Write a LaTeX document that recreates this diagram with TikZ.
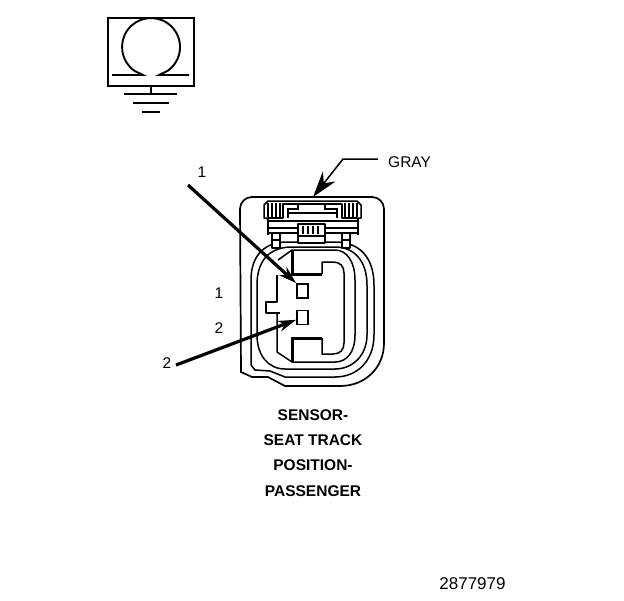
\documentclass[tikz,border=0pt]{standalone}
\usepackage{fontspec}
\setmainfont{Liberation Sans}
\usetikzlibrary{arrows.meta}
\tikzset{
	part/.style={line width=1.5pt,line join=round},
	heavy/.style={line width=3pt,line join=miter},
	pinbox/.style={draw,line width=1.7pt,minimum width=11pt,minimum height=14pt,inner sep=0pt},
	callout/.style={line width=3.2pt,-{Stealth[length=18pt,width=11pt]}},
	label/.style={font=\fontsize{15.5}{18}\selectfont,inner sep=0pt},
}
\begin{document}
\begin{tikzpicture}[x=1pt,y=-1pt]
			\useasboundingbox (0,0) rectangle (624,600);
			% chassis symbol
			\node[draw,line width=1.9pt,minimum width=86pt,minimum height=68pt,inner sep=0pt] (frame) at (151,52) {};
			\coordinate (earth) at (151,94);
			\draw[line width=1.9pt] (112,75) -- (143,75) -- (134.4,70.8) arc[start angle=125,end angle=415,radius=29] -- (159,75) -- (189,75);
			\draw[line width=1.6pt] (frame.south) -- (earth);
			\draw[line width=1.6pt] (124,94) -- (177,94);
			\draw[line width=2.6pt] (133,103) -- (169,103);
			\draw[line width=1.8pt] (142,112) -- (160,112);
			% housing
			\draw[line width=1.7pt] (240,209) arc[start angle=180,end angle=270,radius=12] -- (372,197) arc[start angle=270,end angle=360,radius=12]
				-- (384,343) .. controls (384,368) and (365,386) .. (340,386) -- (285,386) -- (268,377) -- (252,377) -- (241,372) -- cycle;
			% rings
			\draw[part] (251,280) .. controls (251,258) and (262,243) .. (285,242) -- (335,242) .. controls (360,242) and (374,258) .. (374,285)
				-- (374,335) .. controls (374,360) and (358,377) .. (335,377) -- (285,377) -- (270,371) -- (255,370) -- (251,365) -- cycle;
			\draw[part] (257,285) .. controls (257,262) and (268,248) .. (290,247) -- (335,247) .. controls (355,247) and (367,262) .. (367,285)
				-- (367,335) .. controls (367,355) and (353,369) .. (335,369) -- (285,369) .. controls (268,369) and (257,355) .. (257,335) -- cycle;
			% cavity
			\draw[part] (355,280) .. controls (355,262) and (347,250) .. (335,250) -- (292,250) -- (278,260);
			\draw[part] (277,275) -- (277,302) -- (266,302) -- (266,313) -- (280,313);
			\draw[part] (277,313) -- (277,352) -- (292,362) -- (335,362) .. controls (347,362) and (355,352) .. (355,335) -- (355,280);
			% keys
			\draw[heavy] (292,251) -- (292,274) -- (322,274);
			\draw[part] (322,274) -- (322,262) -- (333,262) .. controls (340,262) and (344,266) .. (344,273)
				-- (344,343) .. controls (344,350) and (340,354) .. (333,354) -- (322,354) -- (322,338);
			\draw[heavy] (322,338) -- (292,338) -- (292,362);
			% latch
			\draw[part] (268,218) -- (264,218) -- (264,205) -- (268,201) -- (357,201) -- (361,205) -- (361,218) -- (357,218);
			\draw[part] (268,218) -- (283,218) -- (283,204) -- (342,204) -- (342,218) -- (357,218);
			\draw[line width=2pt] (288,218) -- (288,209) -- (298,209) -- (298,205);
			\draw[line width=2pt] (337,218) -- (337,209) -- (325,209) -- (325,205);
			\draw[part] (288,213) -- (337,213);
			\foreach \xpos in {268,272,276,280,345,349,353,357}
			{	\draw[part] (\xpos,203) -- (\xpos,217);
			}
			\draw[part] (268,218) -- (268,235);
			\draw[part] (358,218) -- (358,235);
			\draw[part] (268,221) -- (358,221);
			\draw[line width=2pt] (268,228) -- (358,228);
			\draw[part] (268,233) -- (358,233);
			\draw[part,fill=white] (298,224) rectangle (325,243);
			\foreach \xpos in {303,308,313,318}
			{	\draw[line width=2pt] (\xpos,226) -- (\xpos,234);
			}
			\draw[part] (298,236) -- (325,236);
			\draw[part,fill=white] (272,233) rectangle (280,248);
			\draw[part,fill=white] (342,233) rectangle (350,248);
			\draw[line width=2pt] (272,240) -- (280,240);
			\draw[line width=2pt] (342,240) -- (350,240);
			% pins and callouts
			\node[pinbox] (pin1) at (302.5,291) {};
			\node[pinbox] (pin2) at (302.5,317.5) {};
			\node[label] (one) at (202,172) {1};
			\node[label] (two) at (167,363) {2};
			\node[label] (pinone) at (219,293) {1};
			\node[label] (pintwo) at (219,328) {2};
			\coordinate (oneend) at (188,185);
			\coordinate (twoend) at (176,365);
			\draw[callout] (oneend) -- (pin1.north west);
			\draw[callout] (twoend) -- (pin2.200);
			% colour leader
			\node[label,anchor=west] (gray) at (388,162) {GRAY};
			\coordinate (leadstart) at (378,159);
			\coordinate (leadbend) at (343,159);
			\coordinate (housingtop) at (313,197);
			\draw[line width=1.5pt,-{Stealth[length=26pt,width=16pt]}] (leadstart) -- (leadbend) -- (housingtop);
			% name
			\node[font=\fontsize{15.5}{25.3}\selectfont\bfseries,align=center,inner sep=0pt] (name) at (313,453) {SENSOR-\\SEAT TRACK\\POSITION-\\PASSENGER};
			\node[font=\fontsize{17}{20}\selectfont,inner sep=0pt] (partno) at (472.5,584) {2877979};
		\end{tikzpicture}
\end{document}
